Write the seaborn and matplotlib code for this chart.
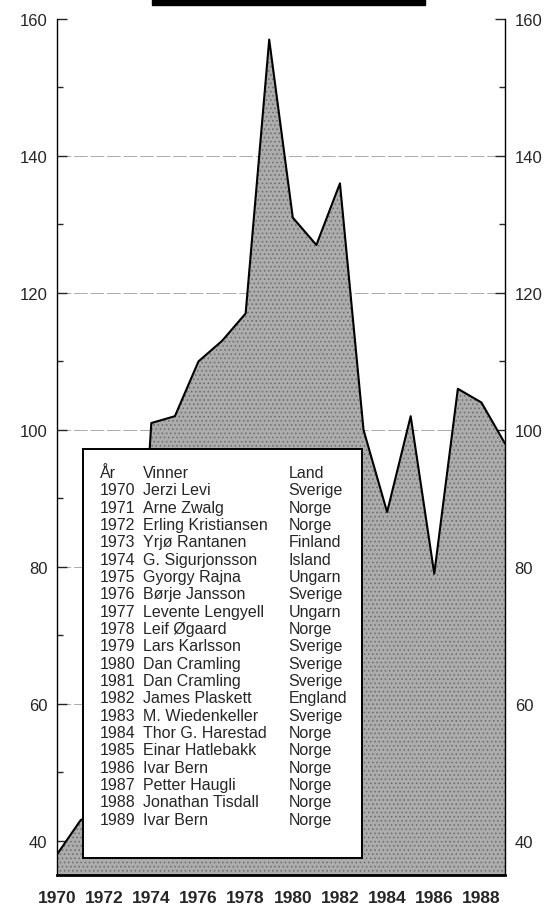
import matplotlib
matplotlib.use("Agg")
import matplotlib.pyplot as plt
from matplotlib.patches import Rectangle
from matplotlib.ticker import MultipleLocator
import pandas as pd
import seaborn as sns

# values (1972-73 are hidden behind the table, guessed)
years = list(range(1970, 1990))
values = [38, 43, 45, 47, 101, 102, 110, 113, 117, 157,
          131, 127, 136, 100, 88, 102, 79, 106, 104, 98]

winners = ["Jerzi Levi", "Arne Zwalg", "Erling Kristiansen", "Yrjø Rantanen",
           "G. Sigurjonsson", "Gyorgy Rajna", "Børje Jansson", "Levente Lengyell",
           "Leif Øgaard", "Lars Karlsson", "Dan Cramling", "Dan Cramling",
           "James Plaskett", "M. Wiedenkeller", "Thor G. Harestad", "Einar Hatlebakk",
           "Ivar Bern", "Petter Haugli", "Jonathan Tisdall", "Ivar Bern"]
countries = ["Sverige", "Norge", "Norge", "Finland", "Island", "Ungarn", "Sverige",
             "Ungarn", "Norge", "Sverige", "Sverige", "Sverige", "England", "Sverige",
             "Norge", "Norge", "Norge", "Norge", "Norge", "Norge"]

ytick_vals = [40, 60, 80, 100, 120, 140, 160]
xtick_vals = list(range(1970, 1989, 2))

df = pd.DataFrame({"year": years, "value": values})

sns.set_style("white")
plt.rcParams["font.family"] = ["Liberation Sans", "DejaVu Sans"]
plt.rcParams["hatch.linewidth"] = 0.6

fig = plt.figure(figsize=(5.49, 9.12), dpi=100)
ax = fig.add_axes([57 / 549, 36 / 912, 448 / 549, 856 / 912])
ax.set_xlim(1970, 1989)
ax.set_ylim(35, 160)

# light dashed gridlines (not at the top)
for yv in ytick_vals[:-1]:
    ax.axhline(yv, color="#ababab", lw=0.7, ls=(0, (14, 3)), zorder=0.5)

ax.fill_between(df["year"], df["value"], 35, facecolor="#acacac",
                edgecolor="#6a6a6a", hatch="....", linewidth=0, zorder=1)
sns.lineplot(data=df, x="year", y="value", color="black", lw=1.5, ax=ax, zorder=2)

# winners table
ax.add_patch(Rectangle((0.0574, 0.0199), 0.6234, 0.4778, transform=ax.transAxes,
                       facecolor="white", edgecolor="black", lw=1.4, zorder=3))
x_year, x_name, x_land = 0.096, 0.1926, 0.5163
y0, dy = 0.4703, 0.02025
kw = dict(transform=ax.transAxes, fontsize=11.5, va="center", zorder=4)
ax.text(x_year, y0, "År", **kw)
ax.text(x_name, y0, "Vinner", **kw)
ax.text(x_land, y0, "Land", **kw)
for i, (yr, w, c) in enumerate(zip(years, winners, countries)):
    yy = y0 - (i + 1) * dy
    ax.text(x_year, yy, str(yr), **kw)
    ax.text(x_name, yy, w, **kw)
    ax.text(x_land, yy, c, **kw)

ax.set_xlabel("")
ax.set_ylabel("")
ax.set_xticks(xtick_vals)
ax.set_yticks(ytick_vals)
ax.yaxis.set_minor_locator(MultipleLocator(10))
ax.tick_params(axis="x", direction="out", length=8, width=1, labelsize=12.5, pad=3)
for t in ax.get_xticklabels():
    t.set_fontweight("bold")
ax.tick_params(axis="y", which="both", direction="in", left=True, right=True,
               labelleft=True, labelright=True, labelsize=12, pad=7)
ax.tick_params(axis="y", which="major", length=7, width=1)
ax.tick_params(axis="y", which="minor", length=4, width=1)

ax.spines["top"].set_visible(False)
ax.spines["bottom"].set_linewidth(2)
ax.spines["left"].set_linewidth(1)
ax.spines["right"].set_linewidth(1)
for s in ax.spines.values():
    s.set_color("black")

# black block at the very top (cut-off heading)
fig.add_artist(Rectangle((152 / 549, 1 - 6 / 912), 273 / 549, 6 / 912,
                         transform=fig.transFigure, color="black"))

fig.savefig("out.png", dpi=100, facecolor="white")
